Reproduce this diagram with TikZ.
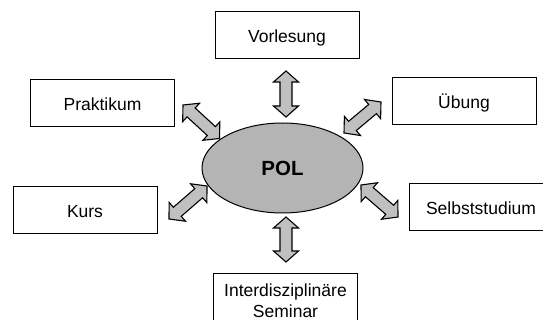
\documentclass[tikz,border=0pt]{standalone}
\usepackage{fontspec}
\setmainfont{Liberation Sans}
\usetikzlibrary{calc,shapes.geometric}
\definecolor{arrowgray}{RGB}{192,192,192}
\definecolor{ellgray}{RGB}{180,180,180}
\tikzset{
  box/.style={draw=black, line width=1pt, fill=white, minimum width=144pt,
    minimum height=47pt, inner sep=0pt, font=\fontsize{17.5}{21.5}\selectfont,
    text height=13.4pt, text depth=0pt},
  twobox/.style={draw=black, line width=1pt, fill=white, minimum width=144pt,
    minimum height=56.4pt, inner sep=0pt, align=center,
    font=\fontsize{17.5}{21}\selectfont},
  polnode/.style={ellipse, draw=black, line width=1pt, fill=ellgray,
    minimum width=161pt, minimum height=90pt, inner sep=0pt,
    font=\fontsize{20.5}{24}\selectfont\bfseries, text height=14.7pt, text depth=0pt},
  dblarrow/.style={draw=black, line width=1.1pt, fill=arrowgray, line join=miter,
    to path={
      -- ($(\tikztostart)!11pt!(\tikztotarget)!12.5pt!90:(\tikztotarget)$)
      -- ($(\tikztostart)!11pt!(\tikztotarget)!6pt!90:(\tikztotarget)$)
      -- ($(\tikztotarget)!11pt!(\tikztostart)!6pt!-90:(\tikztostart)$)
      -- ($(\tikztotarget)!11pt!(\tikztostart)!12.5pt!-90:(\tikztostart)$)
      -- (\tikztotarget)
      -- ($(\tikztotarget)!11pt!(\tikztostart)!12.5pt!90:(\tikztostart)$)
      -- ($(\tikztotarget)!11pt!(\tikztostart)!6pt!90:(\tikztostart)$)
      -- ($(\tikztostart)!11pt!(\tikztotarget)!6pt!-90:(\tikztotarget)$)
      -- ($(\tikztostart)!11pt!(\tikztotarget)!12.5pt!-90:(\tikztotarget)$)
      -- cycle}},
}
\begin{document}
\begin{tikzpicture}[x=1pt,y=-1pt]
\clip (0,0) rectangle (543,320);
\fill[white] (0,0) rectangle (543,320);

\node[box] (vor) at (287,35.5) {Vorlesung};
\node[box] (prak) at (102.5,103.5) {Praktikum};
\node[box] (ueb) at (464,101.5) {Übung};
\node[box] (kurs) at (85,210.5) {Kurs};
\node[box] (selbst) at (481,207.5) {Selbststudium};
\node[twobox] (sem) at (285.5,301.2) {Interdisziplinäre\\Seminar};
\node[polnode] (pol) at (282.5,168) {POL};

\coordinate (t1) at (286,71);
\coordinate (t2) at (286,117);
\coordinate (b1) at (286,217);
\coordinate (b2) at (286,262);
\coordinate (p1) at (183,105);
\coordinate (p2) at (219.5,138.5);
\coordinate (k1) at (169,219);
\coordinate (k2) at (207,186);
\coordinate (u1) at (344,133);
\coordinate (u2) at (381,102);
\coordinate (s1) at (361,185);
\coordinate (s2) at (398,217);

\draw[dblarrow] (t1) to (t2);
\draw[dblarrow] (b1) to (b2);
\draw[dblarrow] (p1) to (p2);
\draw[dblarrow] (k1) to (k2);
\draw[dblarrow] (u1) to (u2);
\draw[dblarrow] (s1) to (s2);
\end{tikzpicture}
\end{document}
